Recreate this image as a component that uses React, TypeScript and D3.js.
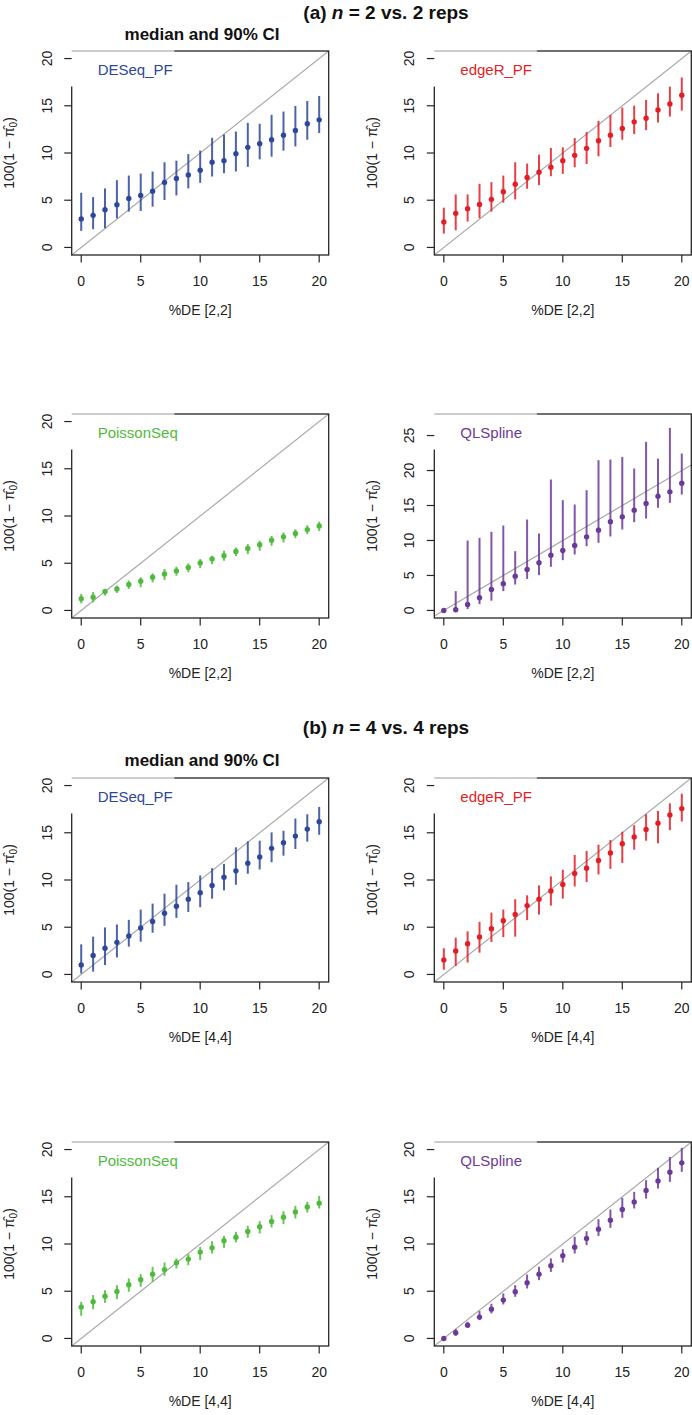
import React from 'react';
import * as d3 from 'd3';

const pctDE = [0, 1, 2, 3, 4, 5, 6, 7, 8, 9, 10, 11, 12, 13, 14, 15, 16, 17, 18, 19, 20];
const xTicks = [0, 5, 10, 15, 20];
const yTicks20 = [0, 5, 10, 15, 20];
const yTicks25 = [0, 5, 10, 15, 20, 25];

// (a) n = 2 vs. 2 reps
const aDESeqMed = [3.02, 3.40, 4.00, 4.53, 5.19, 5.51, 5.96, 6.88, 7.30, 7.68, 8.18, 9.02, 9.19, 9.93, 10.60, 10.98, 11.40, 11.89, 12.39, 13.09, 13.51];
const aDESeqHi = [5.79, 5.33, 6.25, 7.12, 7.61, 7.82, 8.04, 9.02, 9.19, 9.89, 10.25, 11.61, 11.96, 12.28, 13.19, 13.09, 14.04, 14.39, 14.98, 15.51, 16.04];
const aDESeqLo = [1.75, 1.93, 2.04, 3.09, 3.79, 3.86, 4.32, 5.02, 5.51, 6.25, 6.84, 7.51, 7.86, 8.04, 8.53, 9.33, 9.61, 10.25, 10.70, 11.40, 12.11];

const aEdgeRMed = [2.70, 3.61, 4.11, 4.56, 5.09, 5.89, 6.70, 7.40, 7.96, 8.49, 9.19, 9.75, 10.49, 11.30, 11.89, 12.60, 13.30, 13.68, 14.56, 15.19, 16.11];
const aEdgeRHi = [4.21, 5.61, 5.61, 6.74, 6.91, 7.61, 9.02, 8.88, 9.82, 10.53, 10.60, 11.58, 12.21, 13.40, 14.04, 14.81, 15.02, 15.61, 16.32, 17.02, 18.00];
const aEdgeRLo = [1.47, 1.82, 2.74, 3.09, 3.79, 4.74, 5.09, 6.21, 6.60, 7.54, 7.79, 8.49, 8.84, 9.65, 10.63, 11.40, 12.00, 12.42, 13.23, 13.86, 14.49];

const aPoissonMed = [1.25, 1.40, 2.00, 2.28, 2.74, 3.09, 3.51, 3.86, 4.18, 4.56, 5.02, 5.44, 5.79, 6.25, 6.56, 6.95, 7.44, 7.79, 8.14, 8.56, 8.95];
const aPoissonHi = [1.75, 1.95, 2.28, 2.63, 3.16, 3.51, 3.93, 4.39, 4.63, 4.98, 5.44, 5.79, 6.32, 6.67, 7.02, 7.37, 7.89, 8.25, 8.60, 9.02, 9.40];
const aPoissonLo = [0.75, 0.85, 1.58, 1.86, 2.28, 2.46, 2.98, 3.23, 3.68, 4.04, 4.49, 4.91, 5.26, 5.75, 5.96, 6.32, 6.84, 7.19, 7.65, 8.07, 8.42];

const aQLMed = [0.0, 0.1, 0.85, 1.81, 3.00, 3.81, 4.90, 5.86, 6.81, 7.90, 8.57, 9.29, 10.52, 11.48, 12.67, 13.38, 14.33, 15.29, 16.33, 16.95, 18.19];
const aQLHi = [0.1, 2.76, 10.0, 10.38, 11.24, 12.14, 8.48, 13.0, 11.0, 18.71, 15.76, 15.14, 17.19, 21.48, 21.57, 21.95, 20.29, 24.1, 21.71, 26.1, 22.43];
const aQLLo = [0.0, 0.0, 0.2, 0.9, 1.4, 2.76, 3.7, 4.5, 5.05, 6.24, 7.19, 8.0, 9.19, 9.67, 10.57, 11.57, 12.62, 13.14, 14.67, 15.38, 16.57];

// (b) n = 4 vs. 4 reps
const bDESeqMed = [1.0, 2.0, 2.77, 3.40, 4.07, 4.91, 5.61, 6.48, 7.22, 7.96, 8.66, 9.43, 10.30, 10.97, 11.78, 12.44, 13.35, 13.95, 14.65, 15.39, 16.16];
const bDESeqHi = [3.19, 4.0, 4.98, 5.29, 5.78, 6.87, 7.50, 8.55, 9.50, 9.78, 10.48, 11.25, 11.71, 13.46, 14.09, 14.16, 15.04, 15.21, 16.51, 16.96, 17.74];
const bDESeqLo = [0.1, 0.3, 1.0, 1.8, 2.94, 3.47, 4.42, 5.15, 5.99, 6.62, 7.12, 8.03, 8.90, 9.50, 10.66, 11.11, 11.88, 12.58, 13.28, 14.06, 14.79];

const bEdgeRMed = [1.54, 2.49, 3.26, 3.96, 4.84, 5.68, 6.34, 7.29, 7.96, 8.83, 9.53, 10.69, 11.25, 12.06, 12.86, 13.84, 14.55, 15.35, 16.02, 16.89, 17.56];
const bEdgeRHi = [2.77, 3.89, 4.56, 5.57, 6.55, 6.87, 7.96, 8.38, 9.43, 10.38, 11.08, 12.65, 13.07, 13.74, 14.23, 15.11, 15.81, 16.96, 17.31, 18.12, 19.14];
const bEdgeRLo = [0.5, 0.9, 1.26, 2.31, 3.43, 3.96, 4.0, 5.75, 6.34, 7.29, 8.03, 9.32, 9.78, 10.59, 11.18, 11.81, 13.21, 14.16, 13.88, 15.28, 16.19];

const bPoissonMed = [3.32, 3.88, 4.48, 4.97, 5.68, 6.21, 6.81, 7.27, 8.01, 8.40, 9.14, 9.59, 10.34, 10.72, 11.32, 11.82, 12.38, 12.84, 13.40, 13.93, 14.32];
const bPoissonHi = [3.88, 4.59, 5.11, 5.64, 6.35, 6.81, 7.58, 8.04, 8.47, 8.92, 9.70, 10.30, 10.86, 11.29, 11.92, 12.42, 13.05, 13.47, 14.04, 14.46, 15.10];
const bPoissonLo = [2.40, 3.10, 3.77, 4.16, 4.94, 5.47, 6.00, 6.63, 7.41, 7.76, 8.29, 8.99, 9.59, 10.16, 10.65, 11.11, 11.75, 12.10, 12.70, 13.33, 13.76];

const bQLMed = [0.0, 0.60, 1.41, 2.26, 3.10, 4.06, 4.94, 5.89, 6.81, 7.69, 8.75, 9.66, 10.58, 11.57, 12.52, 13.65, 14.46, 15.66, 16.68, 17.60, 18.59];
const bQLHi = [0.1, 0.99, 1.76, 2.89, 3.67, 4.76, 5.64, 6.77, 7.58, 8.47, 9.45, 10.76, 11.36, 12.63, 13.65, 14.89, 15.52, 16.76, 18.06, 19.22, 20.18];
const bQLLo = [0.0, 0.28, 1.13, 1.94, 2.65, 3.60, 4.41, 5.29, 6.17, 7.05, 8.04, 8.99, 9.88, 10.86, 11.71, 12.77, 13.76, 14.81, 15.87, 16.58, 17.64];

const methodNames = ['DESeq_PF', 'edgeR_PF', 'PoissonSeq', 'QLSpline'];
const methodColors = ['#2d479b', '#e31d25', '#4fbb3c', '#6b3a98'];
const sectionTitles = ['(a) ', ' = 2 vs. 2 reps', '(b) ', ' = 4 vs. 4 reps'];
const xLabels = ['%DE [2,2]', '%DE [4,4]'];
const subTitle = 'median and 90% CI';

const FONT = '"Liberation Sans", Arial, Helvetica, sans-serif';
const W = 257;
const H = 204;
const colLeft = [71.7, 434.3];
const rowTop = [51, 414, 778, 1142];

type PanelSpec = {
  name: string; color: string; med: number[]; lo: number[]; hi: number[];
  yLim: number; yTicks: number[]; xlab: string; col: number; row: number;
};

const panels: PanelSpec[] = [
  { name: methodNames[0], color: methodColors[0], med: aDESeqMed, lo: aDESeqLo, hi: aDESeqHi, yLim: 20, yTicks: yTicks20, xlab: xLabels[0], col: 0, row: 0 },
  { name: methodNames[1], color: methodColors[1], med: aEdgeRMed, lo: aEdgeRLo, hi: aEdgeRHi, yLim: 20, yTicks: yTicks20, xlab: xLabels[0], col: 1, row: 0 },
  { name: methodNames[2], color: methodColors[2], med: aPoissonMed, lo: aPoissonLo, hi: aPoissonHi, yLim: 20, yTicks: yTicks20, xlab: xLabels[0], col: 0, row: 1 },
  { name: methodNames[3], color: methodColors[3], med: aQLMed, lo: aQLLo, hi: aQLHi, yLim: 27, yTicks: yTicks25, xlab: xLabels[0], col: 1, row: 1 },
  { name: methodNames[0], color: methodColors[0], med: bDESeqMed, lo: bDESeqLo, hi: bDESeqHi, yLim: 20, yTicks: yTicks20, xlab: xLabels[1], col: 0, row: 2 },
  { name: methodNames[1], color: methodColors[1], med: bEdgeRMed, lo: bEdgeRLo, hi: bEdgeRHi, yLim: 20, yTicks: yTicks20, xlab: xLabels[1], col: 1, row: 2 },
  { name: methodNames[2], color: methodColors[2], med: bPoissonMed, lo: bPoissonLo, hi: bPoissonHi, yLim: 20, yTicks: yTicks20, xlab: xLabels[1], col: 0, row: 3 },
  { name: methodNames[3], color: methodColors[3], med: bQLMed, lo: bQLLo, hi: bQLHi, yLim: 20, yTicks: yTicks20, xlab: xLabels[1], col: 1, row: 3 },
];

function Panel({ p }: { p: PanelSpec }) {
  const left = colLeft[p.col];
  const top = rowTop[p.row];
  const x = d3.scaleLinear().domain([-0.04 * 20, 20 * 1.04]).range([left, left + W]);
  const y = d3.scaleLinear().domain([-0.04 * p.yLim, p.yLim * 1.04]).range([top + H, top]);
  const [x0, x1] = x.domain();
  const [y0, y1] = y.domain();
  const d0 = Math.max(x0, y0);
  const d1 = Math.min(x1, y1);
  const clipId = `clip-${p.row}-${p.col}`;
  const cy = top + H / 2;
  const ylabX = left - 57.5;
  return (
    <g>
      <defs>
        <clipPath id={clipId}>
          <rect x={left} y={top} width={W} height={H} />
        </clipPath>
      </defs>
      <line x1={x(d0)} y1={y(d0)} x2={x(d1)} y2={y(d1)} stroke="#a9a9a9" strokeWidth={1.2} clipPath={`url(#${clipId})`} />
      {pctDE.map((v, i) => (
        <line key={'b' + i} x1={x(v)} x2={x(v)} y1={y(p.lo[i])} y2={y(p.hi[i])} stroke={p.color} strokeOpacity={0.85} strokeWidth={2} />
      ))}
      {pctDE.map((v, i) => (
        <circle key={'c' + i} cx={x(v)} cy={y(p.med[i])} r={2.7} fill={p.color} />
      ))}
      <rect x={left} y={top} width={W} height={H} fill="none" stroke="#262626" strokeWidth={1.3} />
      <rect x={left - 1.5} y={top - 1.5} width={104} height={37} fill="#fff" />
      <line x1={left} x2={left + 103} y1={top} y2={top} stroke="#9a9a9a" strokeWidth={1} />
      <text x={left + 26} y={top + 24} fontSize={15} fill={p.color} fontFamily={FONT}>{p.name}</text>
      {xTicks.map(t => (
        <g key={'xt' + t}>
          <line x1={x(t)} x2={x(t)} y1={top + H} y2={top + H + 7.5} stroke="#262626" strokeWidth={1.2} />
          <text x={x(t)} y={top + H + 31} fontSize={14} textAnchor="middle" fontFamily={FONT} fill="#222">{t}</text>
        </g>
      ))}
      {p.yTicks.map(t => (
        <g key={'yt' + t}>
          <line x1={left} x2={left - 7.5} y1={y(t)} y2={y(t)} stroke="#262626" strokeWidth={1.2} />
          <text transform={`translate(${left - 20},${y(t)}) rotate(-90)`} fontSize={14} textAnchor="middle" fontFamily={FONT} fill="#222">{t}</text>
        </g>
      ))}
      <text x={left + W / 2} y={top + H + 60} fontSize={14} textAnchor="middle" fontFamily={FONT} fill="#222">{p.xlab}</text>
      <text transform={`translate(${ylabX},${cy}) rotate(-90)`} fontSize={14} textAnchor="middle" fontFamily={FONT} fill="#222">
        100(1 − π̂<tspan fontSize={10} dy={3}>0</tspan><tspan dy={-3}>)</tspan>
      </text>
    </g>
  );
}

export default function App() {
  return (
    <svg width={692} height={1415} style={{ position: 'absolute', left: 0, top: 0, display: 'block', background: '#fff' }}>
      <rect x={0} y={0} width={692} height={1415} fill="#fff" />
      <text x={386} y={19} fontSize={19} fontWeight="bold" textAnchor="middle" fontFamily={FONT} fill="#111">
        {sectionTitles[0]}<tspan fontStyle="italic">n</tspan>{sectionTitles[1]}
      </text>
      <text x={202} y={40} fontSize={17} fontWeight="bold" textAnchor="middle" fontFamily={FONT} fill="#111">{subTitle}</text>
      <text x={386} y={734} fontSize={19} fontWeight="bold" textAnchor="middle" fontFamily={FONT} fill="#111">
        {sectionTitles[2]}<tspan fontStyle="italic">n</tspan>{sectionTitles[3]}
      </text>
      <text x={202} y={766} fontSize={17} fontWeight="bold" textAnchor="middle" fontFamily={FONT} fill="#111">{subTitle}</text>
      {panels.map((p, i) => <Panel key={i} p={p} />)}
    </svg>
  );
}
